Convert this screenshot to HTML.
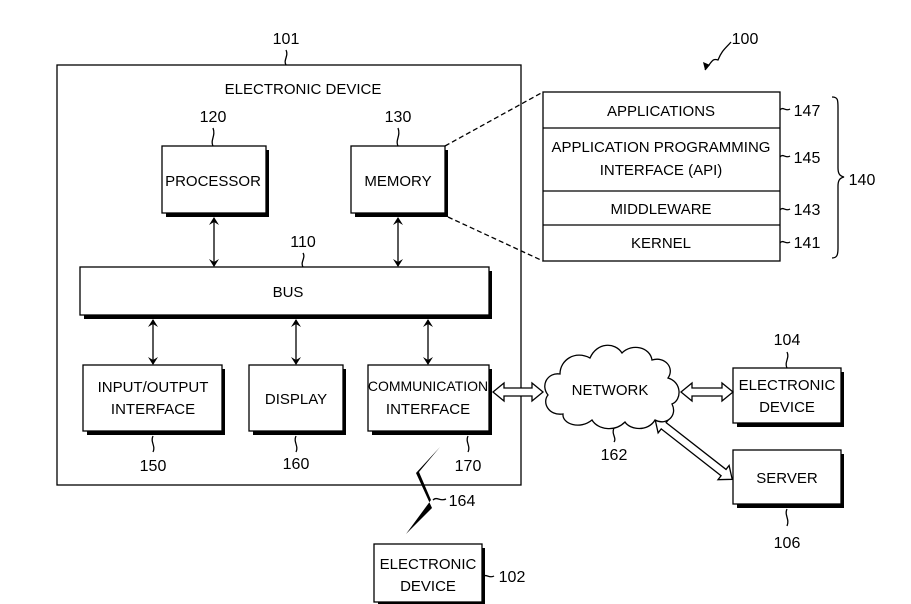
<!DOCTYPE html>
<html><head><meta charset="utf-8"><style>
html,body{margin:0;padding:0;background:#fff}
svg{display:block}
text{font-family:"Liberation Sans",sans-serif;font-size:15px;fill:#000;text-anchor:middle}
.n{font-size:16px}
</style></head><body>
<svg width="911" height="604" viewBox="0 0 911 604" xmlns="http://www.w3.org/2000/svg">
<defs>
<marker id="ah" markerWidth="8" markerHeight="10" refX="7" refY="5" orient="auto-start-reverse" markerUnits="userSpaceOnUse">
<path d="M0,0 L8,5 L0,10 L3,5 Z" fill="#000"/></marker>
</defs>
<g fill="none" stroke="#000" stroke-width="1.3">
<rect x="57" y="65" width="464" height="420"/>
<g fill="#000" stroke="none">
<rect x="166" y="150" width="103" height="67"/>
<rect x="355" y="150" width="93" height="67"/>
<rect x="84" y="271" width="408" height="48"/>
<rect x="87" y="369" width="138" height="66"/>
<rect x="253" y="369" width="93" height="66"/>
<rect x="372" y="369" width="120" height="66"/>
<rect x="737" y="372" width="107" height="55"/>
<rect x="737" y="454" width="107" height="54"/>
<rect x="378" y="548" width="107" height="56"/>
</g>
<g fill="#fff">
<rect x="162" y="146" width="104" height="67"/>
<rect x="351" y="146" width="94" height="67"/>
<rect x="80" y="267" width="409" height="48"/>
<rect x="83" y="365" width="139" height="66"/>
<rect x="249" y="365" width="94" height="66"/>
<rect x="368" y="365" width="121" height="66"/>
<rect x="733" y="368" width="108" height="55"/>
<rect x="733" y="450" width="108" height="54"/>
<rect x="374" y="544" width="108" height="58"/>
<rect x="543" y="92" width="237" height="169"/>
</g>
<line x1="543" y1="128" x2="780" y2="128"/>
<line x1="543" y1="191" x2="780" y2="191"/>
<line x1="543" y1="225" x2="780" y2="225"/>
<line x1="445" y1="146" x2="543" y2="92" stroke-dasharray="5,3"/>
<line x1="448" y1="217" x2="543" y2="261" stroke-dasharray="5,3"/>
<g marker-start="url(#ah)" marker-end="url(#ah)">
<line x1="214" y1="218" x2="214" y2="266"/>
<line x1="398" y1="218" x2="398" y2="266"/>
<line x1="153" y1="320" x2="153" y2="364"/>
<line x1="296" y1="320" x2="296" y2="364"/>
<line x1="428" y1="320" x2="428" y2="364"/>
</g>
<path d="M493,392 L504,383 L504,388 L532,388 L532,383 L543,392 L532,401 L532,396 L504,396 L504,401 Z" fill="#fff"/>
<path d="M681,392 L692,383 L692,388 L722,388 L722,383 L733,392 L722,401 L722,396 L692,396 L692,401 Z" fill="#fff"/>
<g transform="translate(655,419) rotate(38)">
<path d="M0,0 L11,-9 L11,-4 L87,-4 L87,-9 L98,0 L87,9 L87,4 L11,4 L11,9 Z" fill="#fff"/>
</g>
<path d="M548,395 C540,385 548,372 560,374 C560,360 575,350 590,358 C597,342 615,342 622,353 C632,343 650,347 652,360 C665,356 675,368 668,378 C682,382 682,400 672,404 C678,416 666,426 655,420 C648,432 630,430 625,422 C615,432 598,430 592,420 C580,430 562,424 563,414 C548,416 542,402 548,395 Z" fill="#fff"/>
<path d="M832,97 C838,97 838,100 838,108 L838,168 C838,174 840,176 844,177 C840,178 838,180 838,186 L838,248 C838,255 837,258 832,258"/>
<path d="M286,65 C283,60 289,56 286,50"/>
<path d="M213,146 C210,140 216,136 213,128"/>
<path d="M398,146 C395,140 401,136 398,128"/>
<path d="M303,267 C300,262 306,258 303,253"/>
<path d="M153,436 C150,442 156,446 153,452"/>
<path d="M296,436 C293,442 299,446 296,452"/>
<path d="M468,436 C465,442 471,446 468,452"/>
<path d="M614,428 C611,434 617,438 614,442"/>
<path d="M787,368 C784,362 790,358 787,352"/>
<path d="M787,509 C784,515 790,519 787,526"/>
<path d="M780,110 C783,106 786,112 790,109"/>
<path d="M780,157 C783,153 786,159 790,156"/>
<path d="M780,210 C783,206 786,212 790,209"/>
<path d="M780,243 C783,239 786,245 790,242"/>
<path d="M483,577 C486,573 489,579 494,576"/>
<path d="M433,500 C437,496 440,502 446,499"/>
<path d="M705,70 C712,62 712,58 718,60 C722,50 726,48 731,42"/>
</g>
<path d="M705,70 L703,62 L710,65 Z" fill="#000"/>
<polygon points="440,447 416,473 432,508 406,534 431,500 419,472" fill="#000"/>
<text x="286" y="44" class="n">101</text>
<text x="745" y="44" class="n">100</text>
<text x="303" y="94">ELECTRONIC DEVICE</text>
<text x="213" y="122" class="n">120</text>
<text x="398" y="122" class="n">130</text>
<text x="213" y="186">PROCESSOR</text>
<text x="398" y="186">MEMORY</text>
<text x="303" y="247" class="n">110</text>
<text x="288" y="297">BUS</text>
<text x="153" y="392">INPUT/OUTPUT</text>
<text x="153" y="414">INTERFACE</text>
<text x="296" y="404">DISPLAY</text>
<text x="428" y="391" style="font-size:14px">COMMUNICATION</text>
<text x="428" y="414">INTERFACE</text>
<text x="153" y="471" class="n">150</text>
<text x="296" y="469" class="n">160</text>
<text x="468" y="471" class="n">170</text>
<text x="661" y="116">APPLICATIONS</text>
<text x="661" y="152">APPLICATION PROGRAMMING</text>
<text x="661" y="175">INTERFACE (API)</text>
<text x="661" y="214">MIDDLEWARE</text>
<text x="661" y="248">KERNEL</text>
<text x="807" y="116" class="n">147</text>
<text x="807" y="163" class="n">145</text>
<text x="807" y="215" class="n">143</text>
<text x="807" y="248" class="n">141</text>
<text x="862" y="185" class="n">140</text>
<text x="610" y="395">NETWORK</text>
<text x="614" y="460" class="n">162</text>
<text x="787" y="345" class="n">104</text>
<text x="787" y="390">ELECTRONIC</text>
<text x="787" y="412">DEVICE</text>
<text x="787" y="483">SERVER</text>
<text x="787" y="548" class="n">106</text>
<text x="462" y="506" class="n">164</text>
<text x="428" y="569">ELECTRONIC</text>
<text x="428" y="591">DEVICE</text>
<text x="512" y="582" class="n">102</text>
</svg>
</body></html>
